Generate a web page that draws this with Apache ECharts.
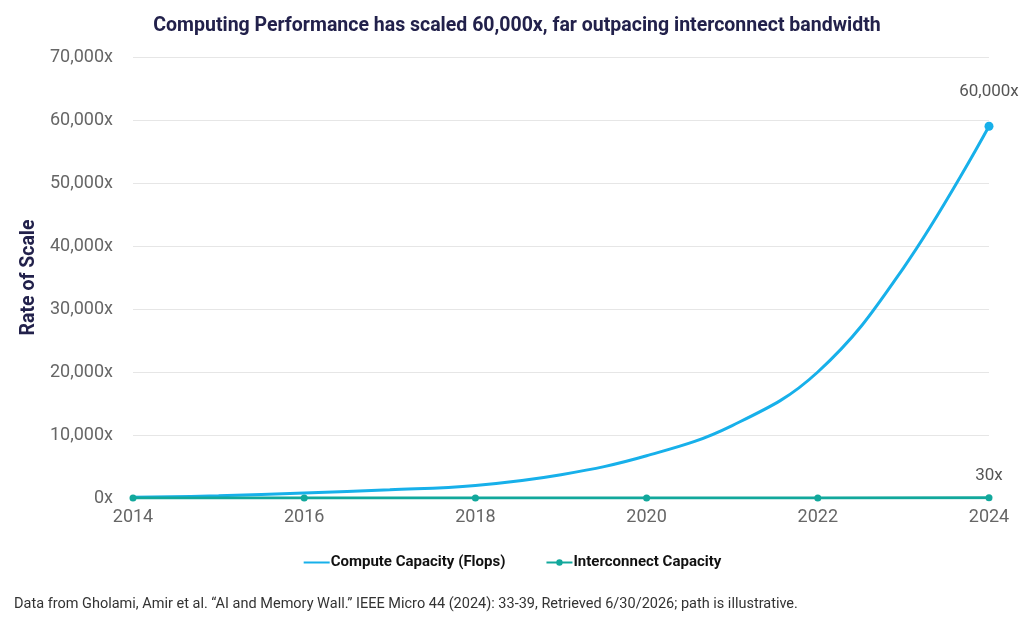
<!DOCTYPE html>
<html>
<head>
<meta charset="utf-8">
<script src="https://cdn.jsdelivr.net/npm/echarts@6/dist/echarts.min.js"></script>
<style>
  html, body { margin: 0; padding: 0; background: #fff; }
  #chart { width: 1024px; height: 629px; }
</style>
</head>
<body>
<div id="chart"></div>
<script>
// data
var computeYears = [2014, 2015, 2016, 2017, 2018, 2019, 2020, 2021, 2022, 2023, 2024];
var computeValues = [100, 350, 800, 1300, 2000, 3700, 6700, 11500, 20000, 36500, 59000];
var interconnectYears = [2014, 2016, 2018, 2020, 2022, 2024];
var interconnectValues = [1, 2, 4, 8, 15, 30];
var endLabels = ['60,000x', '30x'];

var computeColor = '#17b0ea';
var interconnectColor = '#12a89c';

function pairs(xs, ys) {
    var out = [];
    for (var i = 0; i < xs.length; i++) out.push([xs[i], ys[i]]);
    return out;
}

var computeData = pairs(computeYears, computeValues).map(function (p, i, arr) {
    var item = { value: p };
    if (i === arr.length - 1) {
        item.symbolSize = 9;
        item.label = { show: true, position: 'top', distance: 22, formatter: endLabels[0] };
    }
    return item;
});
var interconnectData = pairs(interconnectYears, interconnectValues).map(function (p, i, arr) {
    var item = { value: p };
    if (i === arr.length - 1) {
        item.label = { show: true, position: 'top', distance: 10, formatter: endLabels[1] };
    }
    return item;
});

var myChart = echarts.init(document.getElementById('chart'));
var option = {
    animation: false,
    textStyle: { fontFamily: 'Roboto, "DejaVu Sans", sans-serif' },
    title: {
        text: 'Computing Performance has scaled 60,000x, far outpacing interconnect bandwidth',
        left: 512,
        textAlign: 'center',
        top: 11,
        textStyle: { fontSize: 19.5, fontWeight: 'bold', color: '#22214b' }
    },
    legend: {
        bottom: 54,
        left: 'center',
        itemWidth: 26,
        itemHeight: 8,
        itemGap: 40,
        textStyle: { fontSize: 15, fontWeight: 'bold', color: '#111', padding: [0, 0, 0, -4] },
        data: [
            { name: 'Compute Capacity (Flops)', itemStyle: { opacity: 0 } },
            { name: 'Interconnect Capacity' }
        ]
    },
    graphic: [{
        type: 'text',
        left: 14,
        top: 597,
        style: {
            text: 'Data from Gholami, Amir et al. \u201cAI and Memory Wall.\u201d IEEE Micro 44 (2024): 33-39, Retrieved 6/30/2026; path is illustrative.',
            fontSize: 14.5,
            fill: '#333',
            fontFamily: 'Roboto, sans-serif'
        }
    }],
    grid: { left: 133, right: 35, top: 57, bottom: 131 },
    xAxis: {
        type: 'value',
        min: 2014,
        max: 2024,
        interval: 2,
        axisLine: { show: true, lineStyle: { color: '#ccc' } },
        axisTick: { show: false },
        splitLine: { show: false },
        axisLabel: { fontSize: 18, color: '#666', margin: 10, formatter: function (v) { return String(v); } }
    },
    yAxis: {
        type: 'value',
        min: 0,
        max: 70000,
        interval: 10000,
        name: 'Rate of Scale',
        nameLocation: 'middle',
        nameGap: 93,
        nameTextStyle: { fontSize: 19.5, fontWeight: 'bold', color: '#22214b' },
        axisLine: { show: false },
        axisTick: { show: false },
        splitLine: { lineStyle: { color: '#e6e6e6' } },
        axisLabel: {
            fontSize: 18, color: '#666', margin: 20,
            formatter: function (v) { return v.toLocaleString('en-US') + 'x'; }
        }
    },
    series: [
        {
            name: 'Compute Capacity (Flops)',
            type: 'line',
            smooth: 0.4,
            data: computeData,
            symbol: 'circle',
            symbolSize: 0,
            showSymbol: true,
            lineStyle: { width: 3, color: computeColor },
            itemStyle: { color: computeColor },
            label: { fontSize: 17, color: '#555' },
            z: 2
        },
        {
            name: 'Interconnect Capacity',
            type: 'line',
            data: interconnectData,
            symbol: 'circle',
            symbolSize: 7,
            lineStyle: { width: 3, color: interconnectColor },
            itemStyle: { color: interconnectColor },
            label: { fontSize: 17, color: '#555' },
            z: 3
        }
    ]
};
myChart.setOption(option);
window.onresize = myChart.resize;
</script>
</body>
</html>
